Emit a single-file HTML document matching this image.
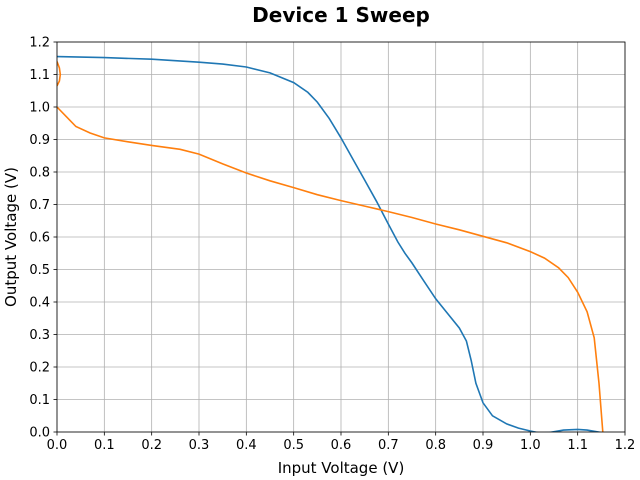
<!DOCTYPE html>
<html><head><meta charset="utf-8"><style>body{margin:0;background:#fff}svg{display:block;font-family:"DejaVu Sans","Liberation Sans",sans-serif}</style></head>
<body>
<svg id="c" width="640" height="480"></svg>
<script>
const xTicks=[0,0.1,0.2,0.3,0.4,0.5,0.6,0.7,0.8,0.9,1.0,1.1,1.2];
const yTicks=[0,0.1,0.2,0.3,0.4,0.5,0.6,0.7,0.8,0.9,1.0,1.1,1.2];
const blueX=[0,0.1,0.2,0.3,0.35,0.4,0.45,0.5,0.53,0.55,0.575,0.6,0.625,0.65,0.675,0.7,0.72,0.735,0.75,0.775,0.8,0.825,0.85,0.865,0.875,0.885,0.9,0.92,0.95,0.975,1.0,1.02,1.04,1.07,1.1,1.12,1.15];
const blueY=[1.155,1.152,1.147,1.138,1.132,1.123,1.105,1.075,1.045,1.015,0.965,0.905,0.84,0.775,0.71,0.64,0.585,0.55,0.52,0.465,0.41,0.365,0.32,0.28,0.22,0.15,0.09,0.05,0.025,0.012,0.003,-0.003,-0.002,0.006,0.008,0.006,-0.002];
const orangeX=[0,0.02,0.04,0.07,0.1,0.15,0.2,0.26,0.3,0.35,0.4,0.45,0.5,0.55,0.6,0.65,0.7,0.75,0.8,0.85,0.9,0.95,1.0,1.03,1.06,1.08,1.1,1.12,1.135,1.145,1.152,1.153];
const orangeY=[1.0,0.97,0.94,0.92,0.905,0.893,0.882,0.87,0.855,0.825,0.797,0.773,0.752,0.73,0.712,0.695,0.678,0.66,0.64,0.622,0.602,0.582,0.555,0.535,0.505,0.475,0.43,0.37,0.29,0.15,0.02,0];
const loopX=[0,0.005,0.007,0.005,0];
const loopY=[1.14,1.12,1.1,1.08,1.065];
const L=57,R=625,T=42,B=432;
const sx=v=>L+(v-0)/1.2*(R-L), sy=v=>B-(v-0)/1.2*(B-T);
const svg=document.getElementById('c');const NS='http://www.w3.org/2000/svg';
function add(tag,attrs,parent){const e=document.createElementNS(NS,tag);for(const k in attrs)e.setAttribute(k,attrs[k]);(parent||svg).appendChild(e);return e;}
const clip=add('clipPath',{id:'pc'});add('rect',{x:L,y:T,width:R-L,height:B-T},clip);
xTicks.forEach(t=>{const g=add('line',{x1:sx(t),x2:sx(t),y1:T,y2:B,stroke:'#b0b0b0','stroke-width':0.8});

const tk=add('line',{x1:sx(t),x2:sx(t),y1:B,y2:B+3.5,stroke:'#000','stroke-width':0.8});

const tx=add('text',{x:sx(t),y:B+17,'text-anchor':'middle','font-size':13});tx.textContent=t.toFixed(1);
});
yTicks.forEach(t=>{const g=add('line',{x1:L,x2:R,y1:sy(t),y2:sy(t),stroke:'#b0b0b0','stroke-width':0.8});

const tk=add('line',{x1:L-3.5,x2:L,y1:sy(t),y2:sy(t),stroke:'#000','stroke-width':0.8});

const tx=add('text',{x:L-7,y:sy(t)+4.5,'text-anchor':'end','font-size':13});tx.textContent=t.toFixed(1);
});
function line(xs,ys,col,name){const d=xs.map((x,i)=>(i?'L':'M')+sx(x).toFixed(1)+','+sy(ys[i]).toFixed(1)).join('');
const p=add('path',{d,fill:'none',stroke:col,'stroke-width':1.6,'clip-path':'url(#pc)'});
}
line(blueX,blueY,'#1f77b4','series-blue');
line(orangeX,orangeY,'#ff7f0e','series-orange');
line(loopX,loopY,'#ff7f0e','series-orange-loop');
const fr=add('rect',{x:L,y:T,width:R-L,height:B-T,fill:'none',stroke:'#000','stroke-width':0.8});

let t=add('text',{x:341,y:22,'text-anchor':'middle','font-size':20,'font-weight':'bold'});t.textContent='Device 1 Sweep';

t=add('text',{x:341,y:473,'text-anchor':'middle','font-size':15});t.textContent='Input Voltage (V)';

t=add('text',{x:0,y:0,'text-anchor':'middle','font-size':15,transform:'translate(16,237) rotate(-90)'});t.textContent='Output Voltage (V)';

</script>
</body></html>
